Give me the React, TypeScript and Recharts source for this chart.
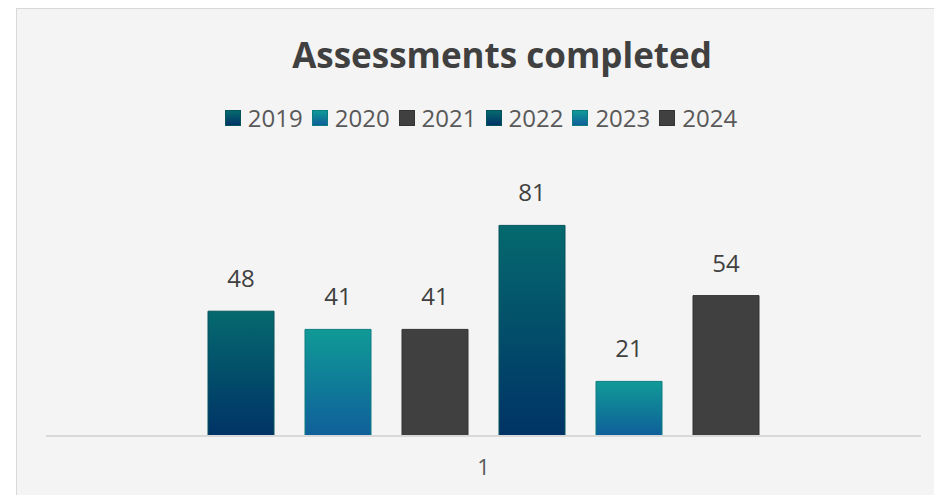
import React from 'react';
import { BarChart, Bar, XAxis, YAxis, LabelList } from 'recharts';

const categories = ['1'];
const years = ['2019', '2020', '2021', '2022', '2023', '2024'];
const assessments = [48, 41, 41, 81, 21, 54];

// fill / stroke per series, repeating teal, aqua, charcoal
const fills = ['url(#gTeal)', 'url(#gAqua)', '#404040', 'url(#gTeal)', 'url(#gAqua)', '#404040'];
const strokes = ['#04545a', '#0c7d80', '#333333', '#04545a', '#0c7d80', '#333333'];
const swatchBg = [
  'linear-gradient(#05696e, #003366)',
  'linear-gradient(#109a97, #0f5f9a)',
  '#404040',
  'linear-gradient(#05696e, #003366)',
  'linear-gradient(#109a97, #0f5f9a)',
  '#404040',
];

const data = categories.map((name) => {
  const row: Record<string, string | number> = { name };
  years.forEach((y, i) => (row['y' + y] = assessments[i]));
  return row;
});

const font = '"Open Sans", "Noto Sans", sans-serif';

export default function App() {
  return (
    <div style={{ position: 'fixed', left: 0, top: 0, width: 934, height: 495, overflow: 'hidden', background: '#ffffff' }}>
      <div
        style={{
          position: 'absolute',
          left: 16,
          top: 8,
          width: 980,
          height: 520,
          background: '#f4f4f4',
          border: '1px solid #d9d9d9',
        }}
      />
      <div
        style={{
          position: 'absolute',
          left: 16,
          top: 31,
          width: 972,
          textAlign: 'center',
          fontFamily: font,
          fontWeight: 700,
          fontSize: 35,
          color: '#404040',
        }}
      >
        Assessments completed
      </div>
      {/* legend */}
      <div
        style={{
          position: 'absolute',
          left: 0,
          top: 101,
          width: 971,
          display: 'flex',
          justifyContent: 'center',
          alignItems: 'center',
          fontFamily: font,
        }}
      >
        {years.map((y, i) => (
          <span key={y} style={{ display: 'flex', alignItems: 'center', marginRight: 9 }}>
            <span
              style={{
                width: 16,
                height: 16,
                background: swatchBg[i],
                border: `1px solid ${strokes[i]}`,
                boxSizing: 'border-box',
                marginRight: 7,
                display: 'inline-block',
              }}
            />
            <span style={{ fontSize: 24, color: '#595959' }}>{y}</span>
          </span>
        ))}
      </div>
      <div style={{ position: 'absolute', left: 0, top: 0 }}>
        <BarChart
          width={934}
          height={495}
          data={data}
          margin={{ top: 176, right: 13, left: 46, bottom: 29 }}
          barSize={66}
          barGap={31}
        >
          <defs>
            <linearGradient id="gTeal" x1="0" y1="0" x2="0" y2="1">
              <stop offset="0%" stopColor="#05696e" />
              <stop offset="100%" stopColor="#003366" />
            </linearGradient>
            <linearGradient id="gAqua" x1="0" y1="0" x2="0" y2="1">
              <stop offset="0%" stopColor="#109a97" />
              <stop offset="100%" stopColor="#0f5f9a" />
            </linearGradient>
          </defs>
          <XAxis
            dataKey="name"
            axisLine={{ stroke: '#d9d9d9', strokeWidth: 2 }}
            tickLine={false}
            tick={{ fontSize: 22, fill: '#595959', fontFamily: font }}
            tickMargin={17}
          />
          <YAxis hide domain={[0, 100]} />
          {years.map((y, i) => (
            <Bar
              key={y}
              dataKey={'y' + y}
              name={y}
              fill={fills[i]}
              stroke={strokes[i]}
              strokeWidth={1}
              isAnimationActive={false}
            >
              <LabelList
                dataKey={'y' + y}
                position="top"
                offset={24}
                style={{ fontSize: 24, fill: '#404040', fontFamily: font }}
              />
            </Bar>
          ))}
        </BarChart>
      </div>
    </div>
  );
}
